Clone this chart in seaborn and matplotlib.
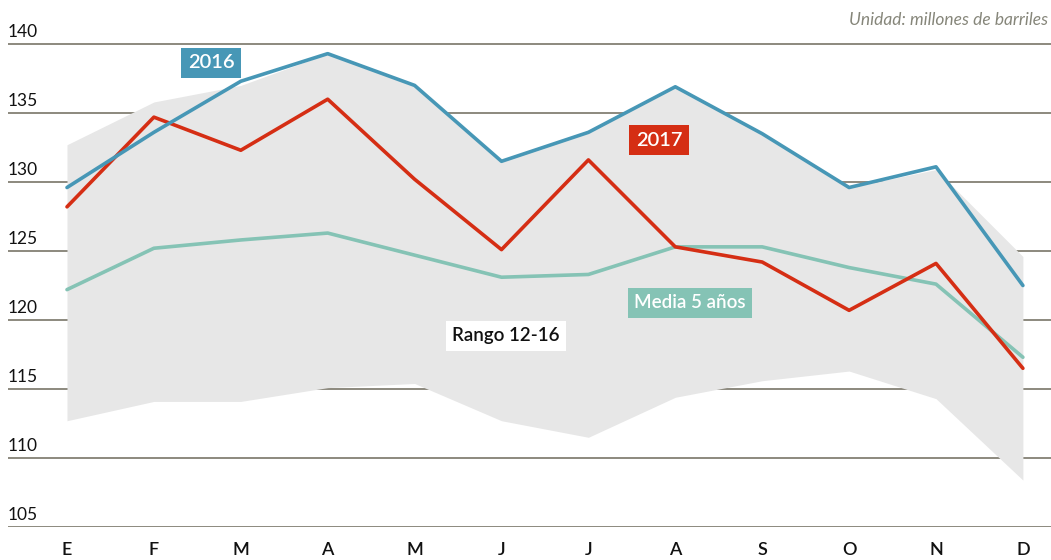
import matplotlib
matplotlib.use("Agg")
import matplotlib.pyplot as plt
import seaborn as sns
import pandas as pd
import numpy as np

# Monthly crude inventories (millions of barrels)
months = ["E", "F", "M", "A", "M", "J", "J", "A", "S", "O", "N", "D"]
serie_2016 = [129.6, 133.6, 137.3, 139.3, 137.0, 131.5, 133.6, 136.9, 133.5, 129.6, 131.1, 122.5]
serie_2017 = [128.2, 134.7, 132.3, 136.0, 130.2, 125.1, 131.6, 125.3, 124.2, 120.7, 124.1, 116.5]
media_5 = [122.2, 125.2, 125.8, 126.3, 124.7, 123.1, 123.3, 125.3, 125.3, 123.8, 122.6, 117.3]
rango_max = [132.7, 135.8, 137.0, 139.3, 137.0, 131.5, 133.6, 136.9, 133.5, 129.6, 130.9, 124.6]
rango_min = [112.7, 114.1, 114.1, 115.1, 115.4, 112.7, 111.5, 114.4, 115.6, 116.3, 114.3, 108.4]
y_ticks = [105, 110, 115, 120, 125, 130, 135, 140]

C_2016 = "#4797b6"
C_2017 = "#d52e14"
C_MEDIA = "#85c3b5"
C_BAND = "#e7e7e7"
C_GRID = "#8c897e"

sns.set_style("white")
plt.rcParams["font.family"] = ["Lato", "DejaVu Sans"]

fig = plt.figure(figsize=(10.51, 5.60), dpi=100)
ax = fig.add_axes([8 / 1051, 33 / 560, 1 - 8 / 1051, (527 - 30) / 560])

x = np.arange(len(months))
df = pd.DataFrame({
    "mes": np.tile(x, 3),
    "valor": serie_2016 + serie_2017 + media_5,
    "serie": ["2016"] * 12 + ["2017"] * 12 + ["Media 5 años"] * 12,
})

ax.fill_between(x, rango_min, rango_max, color=C_BAND, lw=0, zorder=1)
sns.lineplot(data=df, x="mes", y="valor", hue="serie",
             palette={"2016": C_2016, "2017": C_2017, "Media 5 años": C_MEDIA},
             hue_order=["Media 5 años", "2017", "2016"],
             linewidth=2.6, legend=False, ax=ax, zorder=3)

ax.set_xlim((8 - 67) / 86.9, (1051 - 67) / 86.9)
ax.set_ylim(105, 105 + (527 - 30) / 13.8)

for v in y_ticks:
    ax.axhline(v, color=C_GRID, lw=1.4, zorder=0.5)
    ax.text(0.0, v + 0.3, str(v), transform=ax.get_yaxis_transform(),
            ha="left", va="bottom", fontsize=12.5, color="#111111")

ax.set_yticks([])
ax.set_xticks(x)
ax.set_xticklabels(months, fontsize=13, fontweight="semibold", color="#111111")
ax.tick_params(axis="x", length=0, pad=11)
ax.set_xlabel("")
ax.set_ylabel("")
for s in ax.spines.values():
    s.set_visible(False)

def tag(xp, yp, txt, fc, tc="white", size=13.5):
    fig.text(xp / 1051, 1 - yp / 560, txt, ha="center", va="center",
             fontsize=size, color=tc, fontweight="semibold",
             bbox=dict(boxstyle="square,pad=0.33", fc=fc, ec="none"))

tag(211, 63, "2016", C_2016, size=14.5)
tag(659, 140, "2017", C_2017, size=14.5)
tag(690, 303, "Media 5 años", C_MEDIA)
tag(506, 336, "Rango 12-16", "white", tc="#111111")

fig.text(1048 / 1051, 1 - 20 / 560, "Unidad: millones de barriles", ha="right",
         va="center", fontsize=12.5, style="italic", color="#86867a")

fig.savefig("out.png", dpi=100)
